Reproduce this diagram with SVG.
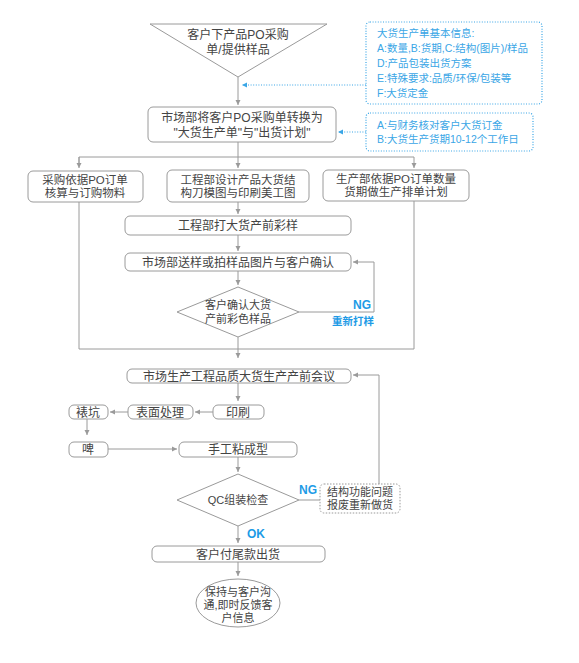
<svg xmlns="http://www.w3.org/2000/svg" width="579" height="663" viewBox="0 0 579 663">
<defs>
<style>
.n{fill:#fff;stroke:#9a9a9a;stroke-width:1}
.t{font-family:"Liberation Sans","Noto Sans CJK SC",sans-serif;font-size:12px;fill:#444;text-anchor:middle}
.m{font-size:11.5px}
.s{font-size:11px}
.b{font-family:"Liberation Sans","Noto Sans CJK SC",sans-serif;font-size:10.5px;fill:#3aa6e6}
.bb{font-family:"Liberation Sans","Noto Sans CJK SC",sans-serif;font-weight:bold;fill:#1d9be6;text-anchor:middle}
.bd{fill:#fff;stroke:#3aa6e6;stroke-width:1.2;stroke-dasharray:1 1.6}
.gd{fill:#fff;stroke:#999;stroke-width:1;stroke-dasharray:1.5 1.5}
.c{fill:none;stroke:#9a9a9a;stroke-width:1}
.cb{fill:none;stroke:#3aa6e6;stroke-width:1.2;stroke-dasharray:1 1.6}
</style>
<marker id="a" markerWidth="6" markerHeight="6" refX="5" refY="3" orient="auto" markerUnits="userSpaceOnUse">
<path d="M0,0.5 L5,3 L0,5.5 Z" fill="#9a9a9a"/>
</marker>
<marker id="ab" markerWidth="6" markerHeight="6" refX="5" refY="3" orient="auto" markerUnits="userSpaceOnUse">
<path d="M0,0.5 L5,3 L0,5.5 Z" fill="#3aa6e6"/>
</marker>
</defs>

<g id="connectors">
<line class="c" x1="238" y1="77" x2="238" y2="105" marker-end="url(#a)"/>
<line class="cb" x1="366" y1="85" x2="242" y2="85" marker-end="url(#ab)"/>
<line class="cb" x1="366" y1="132" x2="338" y2="132" marker-end="url(#ab)"/>
<line class="c" x1="238" y1="142" x2="238" y2="168" marker-end="url(#a)"/>
<polyline class="c" points="79,166 79,157 414,157 414,168" marker-end="url(#a)"/>
<line class="c" x1="79" y1="157" x2="79" y2="168" marker-end="url(#a)"/>
<line class="c" x1="238" y1="202" x2="238" y2="214" marker-end="url(#a)"/>
<line class="c" x1="238" y1="235" x2="238" y2="251" marker-end="url(#a)"/>
<line class="c" x1="238" y1="271" x2="238" y2="285" marker-end="url(#a)"/>
<polyline class="c" points="299,312 374,312 374,262 353,262" marker-end="url(#a)"/>
<polyline class="c" points="79,202 79,349 414,349 414,201"/>
<line class="c" x1="238" y1="337" x2="238" y2="358" marker-end="url(#a)"/>
<line class="c" x1="238" y1="383" x2="238" y2="401" marker-end="url(#a)"/>
<polyline class="c" points="379,484 379,375 353,375" marker-end="url(#a)"/>
<line class="c" x1="213" y1="412" x2="195" y2="412" marker-end="url(#a)"/>
<line class="c" x1="128" y1="412" x2="110" y2="412" marker-end="url(#a)"/>
<line class="c" x1="87" y1="419" x2="87" y2="435" marker-end="url(#a)"/>
<line class="c" x1="108" y1="449" x2="177" y2="449" marker-end="url(#a)"/>
<line class="c" x1="238" y1="457" x2="238" y2="472" marker-end="url(#a)"/>
<line class="c" x1="299" y1="500" x2="320" y2="500"/>
<line class="c" x1="238" y1="526" x2="238" y2="543" marker-end="url(#a)"/>
<line class="c" x1="238" y1="562" x2="238" y2="576" marker-end="url(#a)"/>
</g>

<g id="n-start">
<polygon class="n" points="150,24 327,24 238,77"/>
<text class="t" x="238" y="39">客户下产品PO采购</text>
<text class="t" x="238" y="54">单/提供样品</text>
</g>

<g id="n-info1">
<rect class="bd" x="366" y="22" width="176" height="82" rx="4"/>
<text class="b" x="377" y="37">大货生产单基本信息:</text>
<text class="b" x="377" y="52">A:数量,B:货期,C:结构(图片)/样品</text>
<text class="b" x="377" y="67">D:产品包装出货方案</text>
<text class="b" x="377" y="82">E:特殊要求:品质/环保/包装等</text>
<text class="b" x="377" y="97">F:大货定金</text>
</g>

<g id="n-info2">
<rect class="bd" x="366" y="113" width="167" height="38" rx="4"/>
<text class="b" x="377" y="129">A:与财务核对客户大货订金</text>
<text class="b" x="377" y="143">B:大货生产货期10-12个工作日</text>
</g>

<g id="n-convert">
<rect class="n" x="148" y="107" width="188" height="35" rx="5"/>
<text class="t" x="242" y="122">市场部将客户PO采购单转换为</text>
<text class="t" x="242" y="137">"大货生产单"与"出货计划"</text>
</g>

<g id="n-purchase">
<rect class="n" x="28" y="171" width="115" height="31" rx="5"/>
<text class="t m" x="85" y="184">采购依据PO订单</text>
<text class="t m" x="85" y="197">核算与订购物料</text>
</g>

<g id="n-eng">
<rect class="n" x="167" y="170" width="142" height="32" rx="5"/>
<text class="t m" x="238" y="184">工程部设计产品大货结</text>
<text class="t m" x="238" y="197">构刀模图与印刷美工图</text>
</g>

<g id="n-prod">
<rect class="n" x="323" y="170" width="146" height="31" rx="5"/>
<text class="t m" x="396" y="183">生产部依据PO订单数量</text>
<text class="t m" x="396" y="196">货期做生产排单计划</text>
</g>

<g id="n-sample">
<rect class="n" x="125" y="216" width="226" height="19" rx="5"/>
<text class="t" x="238" y="229.5">工程部打大货产前彩样</text>
</g>

<g id="n-confirm">
<rect class="n" x="125" y="253" width="226" height="18" rx="5"/>
<text class="t" x="238" y="266.5">市场部送样或拍样品图片与客户确认</text>
</g>

<g id="n-dec1">
<polygon class="n" points="177,312 238,287 299,312 238,337"/>
<text class="t s" x="238" y="309">客户确认大货</text>
<text class="t s" x="238" y="323">产前彩色样品</text>
<text class="bb" x="362" y="309" font-size="12">NG</text>
<text class="bb" x="353" y="325" font-size="10.5">重新打样</text>
</g>

<g id="n-meeting">
<rect class="n" x="127" y="369" width="224" height="14" rx="5"/>
<text class="t" x="239" y="380.5">市场生产工程品质大货生产产前会议</text>
</g>

<g id="n-print">
<rect class="n" x="213" y="405" width="51" height="14" rx="5"/>
<text class="t" x="238" y="416.5">印刷</text>
</g>

<g id="n-surface">
<rect class="n" x="128" y="405" width="65" height="14" rx="5"/>
<text class="t" x="160" y="416.5">表面处理</text>
</g>

<g id="n-mount">
<rect class="n" x="69" y="405" width="39" height="14" rx="5"/>
<text class="t" x="88" y="416.5">裱坑</text>
</g>

<g id="n-die">
<rect class="n" x="69" y="442" width="39" height="15" rx="5"/>
<text class="t" x="88" y="453.5">啤</text>
</g>

<g id="n-glue">
<rect class="n" x="179" y="442" width="118" height="15" rx="5"/>
<text class="t" x="238" y="453.5">手工粘成型</text>
</g>

<g id="n-qc">
<polygon class="n" points="177,500 238,474 299,500 238,526"/>
<text class="t s" x="238" y="504">QC组装检查</text>
<text class="bb" x="308" y="494" font-size="12">NG</text>
<text class="bb" x="256" y="538" font-size="12">OK</text>
</g>

<g id="n-problem">
<rect class="gd" x="320" y="484" width="80" height="29" rx="4"/>
<text class="t s" x="360" y="496">结构功能问题</text>
<text class="t s" x="360" y="509">报废重新做货</text>
</g>

<g id="n-ship">
<rect class="n" x="152" y="546" width="173" height="16" rx="5"/>
<text class="t" x="238" y="558.5">客户付尾款出货</text>
</g>

<g id="n-end">
<ellipse class="n" cx="238" cy="603" rx="42" ry="24"/>
<text class="t s" x="238" y="596">保持与客户沟</text>
<text class="t s" x="238" y="609">通,即时反馈客</text>
<text class="t s" x="238" y="622">户信息</text>
</g>
</svg>
